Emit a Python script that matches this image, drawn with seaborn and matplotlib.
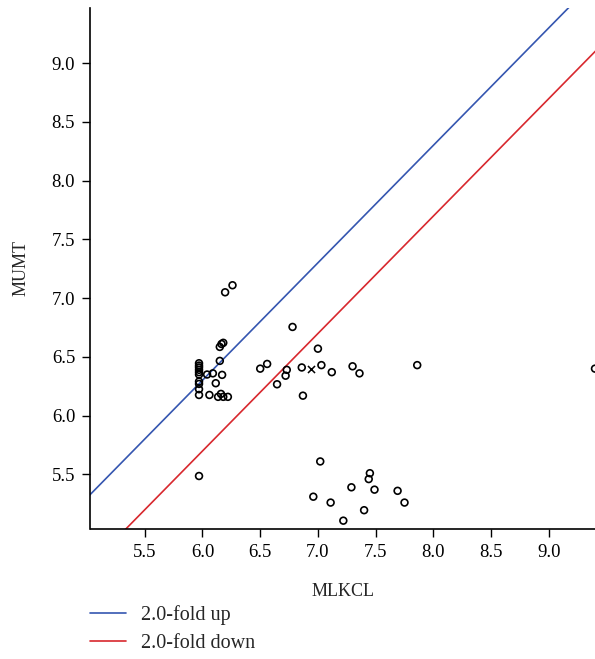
import numpy as np
import pandas as pd
import matplotlib
matplotlib.use("Agg")
import matplotlib.pyplot as plt
import seaborn as sns

# values (log10 expression, MLKCL vs MUMT)
mlkcl = [6.26, 6.196, 6.78, 6.18, 6.165, 6.15, 6.15,
         5.97, 5.97, 5.97, 5.97, 5.97, 5.97, 5.97, 5.97, 5.97, 5.97,
         6.04, 6.09, 6.17, 6.115, 6.06, 6.135, 6.16, 6.18, 6.22,
         6.50, 6.56, 6.73, 6.72, 6.646, 6.86, 7.00, 7.03, 7.12, 6.87,
         7.30, 7.36, 7.86, 9.40,
         5.97, 7.02, 7.45, 7.44, 7.29, 7.49, 7.69, 6.96, 7.11, 7.75, 7.40, 7.22]
mumt = [7.11, 7.05, 6.755, 6.62, 6.61, 6.585, 6.466,
        6.446, 6.426, 6.41, 6.39, 6.37, 6.35, 6.29, 6.27, 6.225, 6.176,
        6.35, 6.36, 6.347, 6.276, 6.176, 6.16, 6.185, 6.16, 6.16,
        6.40, 6.44, 6.39, 6.34, 6.267, 6.41, 6.57, 6.43, 6.37, 6.17,
        6.42, 6.36, 6.43, 6.40,
        5.486, 5.61, 5.51, 5.46, 5.39, 5.37, 5.36, 5.31, 5.26, 5.26, 5.195, 5.106]
# single gene drawn with a cross
cross_mlkcl = [6.936]
cross_mumt = [6.40]

fold_change = 2.0
fold_labels = ["2.0-fold up", "2.0-fold down"]
fold_colors = ["#3556b0", "#d8282e"]

x_ticks = [5.5, 6.0, 6.5, 7.0, 7.5, 8.0, 8.5, 9.0]
y_ticks = [5.5, 6.0, 6.5, 7.0, 7.5, 8.0, 8.5, 9.0]
x_lim = (5.03, 9.40)
y_lim = (5.035, 9.47)

sns.set_style("ticks")
plt.rcParams['font.family'] = ['Liberation Serif', 'DejaVu Serif']
plt.rcParams['font.size'] = 13

fig = plt.figure(figsize=(5.95, 6.59), dpi=100)
ax = fig.add_axes([90.5 / 595, 1 - 529 / 659, 1 - 90.5 / 595, (529 - 8) / 659])

offset = np.log10(fold_change)
line_x = np.array([4.5, 10.0])
lines_df = pd.DataFrame({
	"x": np.concatenate([line_x, line_x]),
	"y": np.concatenate([line_x + offset, line_x - offset]),
	"fold": [fold_labels[0]] * 2 + [fold_labels[1]] * 2,
})
sns.lineplot(data=lines_df, x="x", y="y", hue="fold", palette=fold_colors,
			 linewidth=1.2, ax=ax, legend=False, sort=False)

pts = pd.DataFrame({"MLKCL": mlkcl, "MUMT": mumt})
sns.scatterplot(data=pts, x="MLKCL", y="MUMT", marker="o", s=24,
				facecolor="none", edgecolor="black", linewidth=1.2, ax=ax, zorder=3)
cross = pd.DataFrame({"MLKCL": cross_mlkcl, "MUMT": cross_mumt})
sns.scatterplot(data=cross, x="MLKCL", y="MUMT", marker="x", s=26,
				color="black", linewidth=1.1, ax=ax, zorder=3)

ax.set_xlim(*x_lim)
ax.set_ylim(*y_lim)
ax.set_xticks(x_ticks)
ax.set_yticks(y_ticks)
ax.set_xticklabels([f"{t:.1f}" for t in x_ticks])
ax.set_yticklabels([f"{t:.1f}" for t in y_ticks])
ax.tick_params(direction="out", length=6, width=1.0, colors="black", labelsize=13.5, pad=5)
ax.set_xlabel("MLKCL", fontsize=13, labelpad=16)
ax.set_ylabel("MUMT", fontsize=13, labelpad=16)
for side in ["top", "right"]:
	ax.spines[side].set_visible(False)
for side in ["left", "bottom"]:
	ax.spines[side].set_color("black")
	ax.spines[side].set_linewidth(1.2)

handles = [plt.Line2D([], [], color=c, linewidth=1.2) for c in fold_colors]
fig.legend(handles, fold_labels, loc="upper left", bbox_to_anchor=(90 / 595, 1 - 605 / 659),
		   frameon=False, borderpad=0, borderaxespad=0, handlelength=1.8,
		   handletextpad=0.75, labelspacing=0.45, fontsize=14.5)

fig.savefig("out.png", dpi=100)
